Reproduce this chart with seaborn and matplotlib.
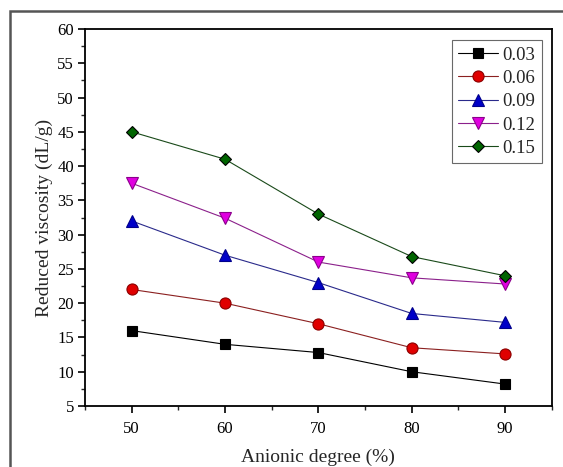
import numpy as np
import pandas as pd
import matplotlib
matplotlib.use("Agg")
import matplotlib.pyplot as plt
import matplotlib.patches as mpatches
from matplotlib.ticker import MultipleLocator
import seaborn as sns

# ── data ──────────────────────────────────────────────────────────────
anionic_degree = [50, 60, 70, 80, 90]
conc_labels = ["0.03", "0.06", "0.09", "0.12", "0.15"]
visc_003 = [16.0, 14.0, 12.8, 10.0, 8.2]
visc_006 = [22.0, 20.0, 17.0, 13.5, 12.6]
visc_009 = [32.0, 27.0, 23.0, 18.5, 17.2]
visc_012 = [37.5, 32.4, 26.0, 23.7, 22.8]
visc_015 = [45.0, 41.0, 33.0, 26.8, 24.0]

series = [visc_003, visc_006, visc_009, visc_012, visc_015]
rows = []
for lab, vals in zip(conc_labels, series):
    for x, y in zip(anionic_degree, vals):
        rows.append({"degree": x, "visc": y, "conc": lab})
df = pd.DataFrame(rows)

sns.set_style("ticks")
plt.rcParams["font.family"] = ["Liberation Serif", "DejaVu Serif"]

face = ["#000000", "#e00000", "#0000c8", "#e000e0", "#006400"]
edge = ["#000000", "#8b0000", "#00008b", "#8b008b", "#000000"]
line_c = ["#000000", "#8b2020", "#2a2a8b", "#8b208b", "#1a4a1a"]
markers = ["s", "o", "^", "v", "D"]
msize = [7, 8, 8, 8, 6]

fig = plt.figure(figsize=(5.63, 4.67), dpi=100)
ax = fig.add_axes([0.151, 0.1306, 0.829, 0.8073])

for i, lab in enumerate(conc_labels):
    sub = df[df["conc"] == lab]
    sns.lineplot(data=sub, x="degree", y="visc", ax=ax, color=line_c[i],
                 linewidth=0.8, marker=markers[i], markersize=msize[i],
                 markerfacecolor=face[i], markeredgecolor=edge[i],
                 markeredgewidth=0.8, label=lab)

ax.set_xlim(45, 95)
ax.set_ylim(5, 60)
ax.xaxis.set_major_locator(MultipleLocator(10))
ax.xaxis.set_minor_locator(MultipleLocator(5))
ax.yaxis.set_major_locator(MultipleLocator(5))
ax.yaxis.set_minor_locator(MultipleLocator(2.5))
ax.tick_params(which="major", direction="out", length=5, width=1.2,
               labelsize=12, colors="black", pad=3)
ax.tick_params(which="minor", direction="out", length=3, width=1.0)
ax.tick_params(axis="x", pad=6)
for s in ax.spines.values():
    s.set_visible(True)
    s.set_linewidth(1.3)
    s.set_color("black")

ax.set_xlabel("Anionic degree (%)", fontsize=14, labelpad=8)
ax.set_ylabel("Reduced viscosity (dL/g)", fontsize=14, labelpad=3)

leg = ax.legend(loc="upper right", bbox_to_anchor=(0.979, 0.971),
                fontsize=13.5, frameon=True, fancybox=False, handlelength=2.1,
                handletextpad=0.25, borderpad=0.35, labelspacing=0.33,
                borderaxespad=0)
leg.get_frame().set_edgecolor("#444444")
leg.get_frame().set_linewidth(0.8)

# outer frame around the figure (clipped on right/bottom)
frame = mpatches.Rectangle((10 / 563, -0.2), 1.2, 1 - 11 / 467 + 0.2,
                           transform=fig.transFigure, fill=False,
                           edgecolor="#555555", linewidth=1.8)
fig.patches.append(frame)

fig.savefig("out.png", dpi=100)
